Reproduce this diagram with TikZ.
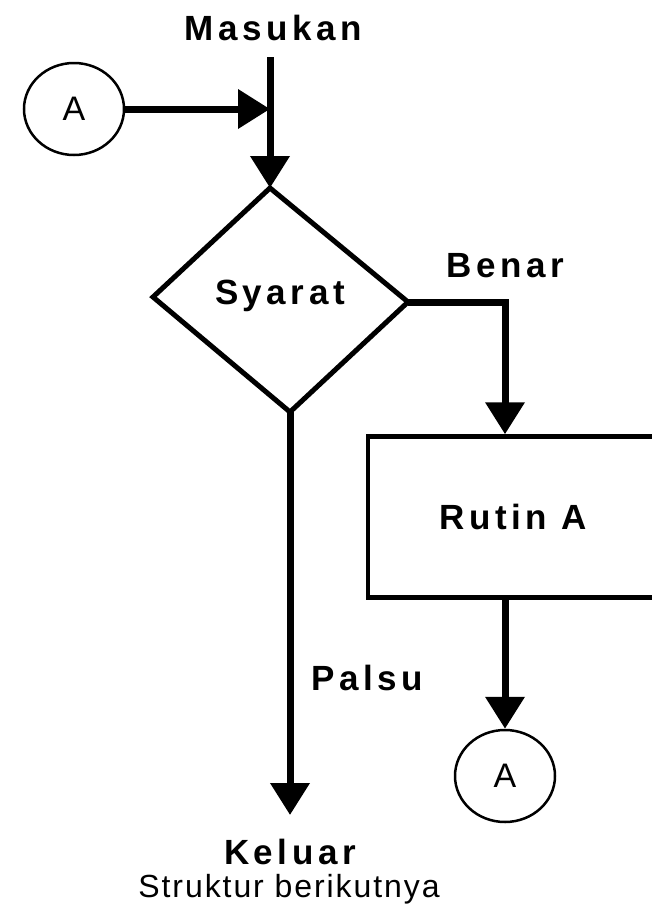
\documentclass[tikz,border=0pt]{standalone}
\usepackage{fontspec}
\setmainfont{Liberation Sans}
\newfontfamily\lblfont[LetterSpace=13]{Liberation Sans}
\newfontfamily\subfont[LetterSpace=6]{Liberation Sans}
\usetikzlibrary{arrows.meta,shapes.geometric}
\begin{document}
\begin{tikzpicture}[x=1pt,y=-1pt,
  lbl/.style={font=\lblfont\bfseries\fontsize{35}{40}\selectfont, inner sep=0pt},
  sub/.style={font=\subfont\fontsize{32}{38}\selectfont, inner sep=0pt},
  conn/.style={ellipse, draw, line width=2.5pt, minimum width=100pt, minimum height=92pt, inner sep=0pt, font=\fontsize{34}{38}\selectfont},
  box/.style={draw, line width=4.5pt, minimum width=290pt, minimum height=161pt, inner sep=0pt, font=\lblfont\bfseries\fontsize{35}{40}\selectfont},
  flow/.style={line width=7pt, -{Triangle[width=38pt,length=32pt]}},
  plain/.style={line width=7pt}]
\useasboundingbox (0,0) rectangle (652,911);
\clip (0,0) rectangle (652,911);
% labels
\node[lbl] (masukan) at (273,28) {Masukan};
\node[lbl] (benar) at (505,266) {Benar};
\node[lbl] (palsu) at (367,678) {Palsu};
\node[lbl] (keluar) at (290,852) {Keluar};
\node[sub] (struktur) at (289,889) {Struktur berikutnya};
% connectors (circles)
\node[conn] (c1) at (74,109) {A};
\node[conn] (c2) at (505,776) {A};
% decision
\coordinate (dT) at (270,188);
\coordinate (dR) at (408,302);
\coordinate (dB) at (290,412);
\coordinate (dL) at (153,297);
\draw[line width=5pt, line join=miter] (dT) -- (dR) -- (dB) -- (dL) -- cycle;
\node[lbl] (syarat) at (280,296) {Syarat};
% process box
\node[box] (rutin) at (513,517) {Rutin A};
% flow lines
\coordinate (m0) at (270,57);
\coordinate (j) at (270,109);
\draw[flow] (m0) -- (dT);
\draw[flow] (c1) -- (j);
\coordinate (bk) at (505,302);
\draw[flow] (dR) -- (bk) -- (bk |- rutin.north);
\draw[flow] (rutin.south -| c2) -- (c2);
\coordinate (kend) at (290,815);
\draw[flow] (dB) -- (kend);
\end{tikzpicture}
\end{document}
